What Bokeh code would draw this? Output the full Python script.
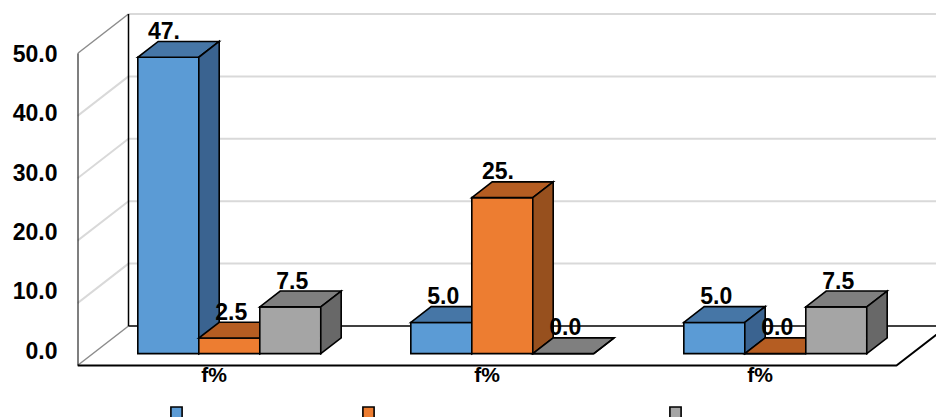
from bokeh.plotting import figure
from bokeh.models import (Range1d, LinearAxis, FixedTicker, Legend, LegendItem,
                          ColumnDataSource, Grid)
from bokeh.embed import file_html
from bokeh.resources import INLINE
from bokeh.core.properties import value

# ---------------- data ----------------
categories = ["f%", "f%", "f%"]
series_names = ["Series 1", "Series 2", "Series 3"]
blue_vals = [47.5, 5.0, 5.0]
orange_vals = [2.5, 25.0, 0.0]
gray_vals = [7.5, 0.0, 7.5]
y_ticks = [0, 10, 20, 30, 40, 50]
y_tick_labels = ["0.0", "10.0", "20.0", "30.0", "40.0", "50.0"]

# face colours (front, top, side) per series
blue_faces = ["#5b9bd5", "#4676a6", "#3a6390"]
orange_faces = ["#ed7d31", "#b55d22", "#97501e"]
gray_faces = ["#a5a5a5", "#7f7f7f", "#686868"]

# ---------------- geometry ----------------
W_PX, H_PX = 936, 417
BORDER_LEFT = 77
FRAME_W = W_PX - BORDER_LEFT
PX_PER_CAT = 273.0
PX_PER_VAL = 6.24
FLOOR_PX = 365
X0 = -0.5
X1 = X0 + FRAME_W / PX_PER_CAT
Y1 = FLOOR_PX / PX_PER_VAL
Y0 = Y1 - H_PX / PX_PER_VAL
DX = 51 / PX_PER_CAT          # full depth shift (category units)
DV = 39.5 / PX_PER_VAL        # full depth shift (value units)
BAR_W = 0.2234
BAR_D0, BAR_D1 = 0.3, 0.7
VMAX = y_ticks[-1]
NCAT = len(categories)
FS = "23px"

p = figure(width=W_PX, height=H_PX, output_backend="svg", toolbar_location=None,
           x_range=Range1d(X0, X1), y_range=Range1d(Y0, Y1),
           x_axis_location=None, y_axis_location=None,
           min_border_left=BORDER_LEFT, min_border_right=0,
           min_border_top=0, min_border_bottom=0)
p.outline_line_color = None
p.background_fill_color = "white"
p.border_fill_color = "white"
for g in list(p.center):
    if isinstance(g, Grid):
        g.visible = False

# label axis with its own range
LAB0_PX, LAB_PX_PER_VAL = 349.5, 5.93
p.extra_y_ranges = {"lab": Range1d((LAB0_PX - H_PX) / LAB_PX_PER_VAL, LAB0_PX / LAB_PX_PER_VAL)}
yax = LinearAxis(y_range_name="lab", ticker=FixedTicker(ticks=y_ticks),
                 major_label_overrides={t: s for t, s in zip(y_ticks, y_tick_labels)})
yax.axis_line_color = None
yax.major_tick_line_color = None
yax.minor_tick_line_color = None
yax.major_label_standoff = 14
yax.major_label_text_font = "Liberation Sans"
yax.major_label_text_font_style = "bold"
yax.major_label_text_font_size = FS
yax.major_label_text_color = "black"
p.add_layout(yax, "left")

# ---------------- walls & floor ----------------
xl_f, xl_b = X0, X0 + DX
xr_f, xr_b = X0 + NCAT, X0 + NCAT + DX
inner = y_ticks[1:-1]
p.segment(x0=[xl_b] * len(inner), y0=[t + DV for t in inner],
          x1=[xr_b] * len(inner), y1=[t + DV for t in inner],
          line_color="#d9d9d9", line_width=2)
p.segment(x0=[xl_b], y0=[VMAX + DV], x1=[xr_b], y1=[VMAX + DV],
          line_color="#d9d9d9", line_width=2)
p.segment(x0=[xl_f] * len(inner), y0=inner, x1=[xl_b] * len(inner),
          y1=[t + DV for t in inner], line_color="#d9d9d9", line_width=2)
p.segment(x0=[xl_f, xl_f], y0=[0, VMAX], x1=[xl_b, xl_b], y1=[DV, VMAX + DV],
          line_color="#8c8c8c", line_width=1.5)
p.segment(x0=[xl_b], y0=[DV], x1=[xl_b], y1=[VMAX + DV], line_color="black", line_width=1.5)
p.segment(x0=[xl_b], y0=[DV], x1=[xr_b], y1=[DV], line_color="black", line_width=1.5)
p.segment(x0=[xl_f], y0=[0], x1=[xl_f], y1=[VMAX], line_color="black", line_width=2)
p.line(x=[xl_f, xr_f, xr_b], y=[0, 0, DV], line_color="black", line_width=2)

# ---------------- bars ----------------
series = [(blue_vals, blue_faces), (orange_vals, orange_faces), (gray_vals, gray_faces)]
renderers = []
lab_x, lab_y, lab_t, lab_off = [], [], [], []
dX = (BAR_D1 - BAR_D0) * DX
dV = (BAR_D1 - BAR_D0) * DV
for j, (vals, faces) in enumerate(series):
    xs, ys, cols = [], [], []
    for i, v in enumerate(vals):
        L = i - 1.5 * BAR_W + j * BAR_W + BAR_D0 * DX
        R = L + BAR_W
        B = BAR_D0 * DV
        T = v + BAR_D0 * DV
        xs += [[L, R, R, L], [L, R, R + dX, L + dX], [R, R + dX, R + dX, R]]
        ys += [[B, B, T, T], [T, T, T + dV, T + dV], [B, B + dV, T + dV, T]]
        cols += faces
        full = f"{v:.1f}"
        shown = full[:3]
        lab_x.append((L + R) / 2)
        lab_y.append(T + dV)
        lab_t.append(shown)
        lab_off.append(2 - (len(full) - len(shown)) * 0.556 * 23 / 2)
    src = ColumnDataSource(dict(xs=xs, ys=ys, c=cols))
    r = p.patches("xs", "ys", source=src, fill_color="c", line_color="black",
                  line_width=1.6, line_join="miter")
    renderers.append(r)

p.text(x=lab_x, y=lab_y, text=lab_t, x_offset=lab_off, y_offset=-11,
       text_align="center", text_baseline="alphabetic",
       text_font=value("Liberation Sans"), text_font_style="bold",
       text_font_size=FS, text_color="black")

# category labels
p.text(x=list(range(NCAT)), y=[0] * NCAT, text=categories, y_offset=-3,
       text_align="center", text_baseline="top",
       text_font=value("Liberation Sans"), text_font_style="bold",
       text_font_size="21px", text_color="black")

# ---------------- legend ----------------
legend_x = [92, 284, 591]
for r, name, lx in zip(renderers, series_names, legend_x):
    lg = Legend(items=[LegendItem(label="", renderers=[r], index=0)],
                location=(lx, -3), orientation="horizontal",
                glyph_width=14, glyph_height=15, label_width=0, label_height=15,
                label_standoff=0, padding=0, margin=0, spacing=0,
                border_line_color=None, background_fill_alpha=0)
    p.add_layout(lg, "center")

open("out.html", "w").write(file_html(p, INLINE))
